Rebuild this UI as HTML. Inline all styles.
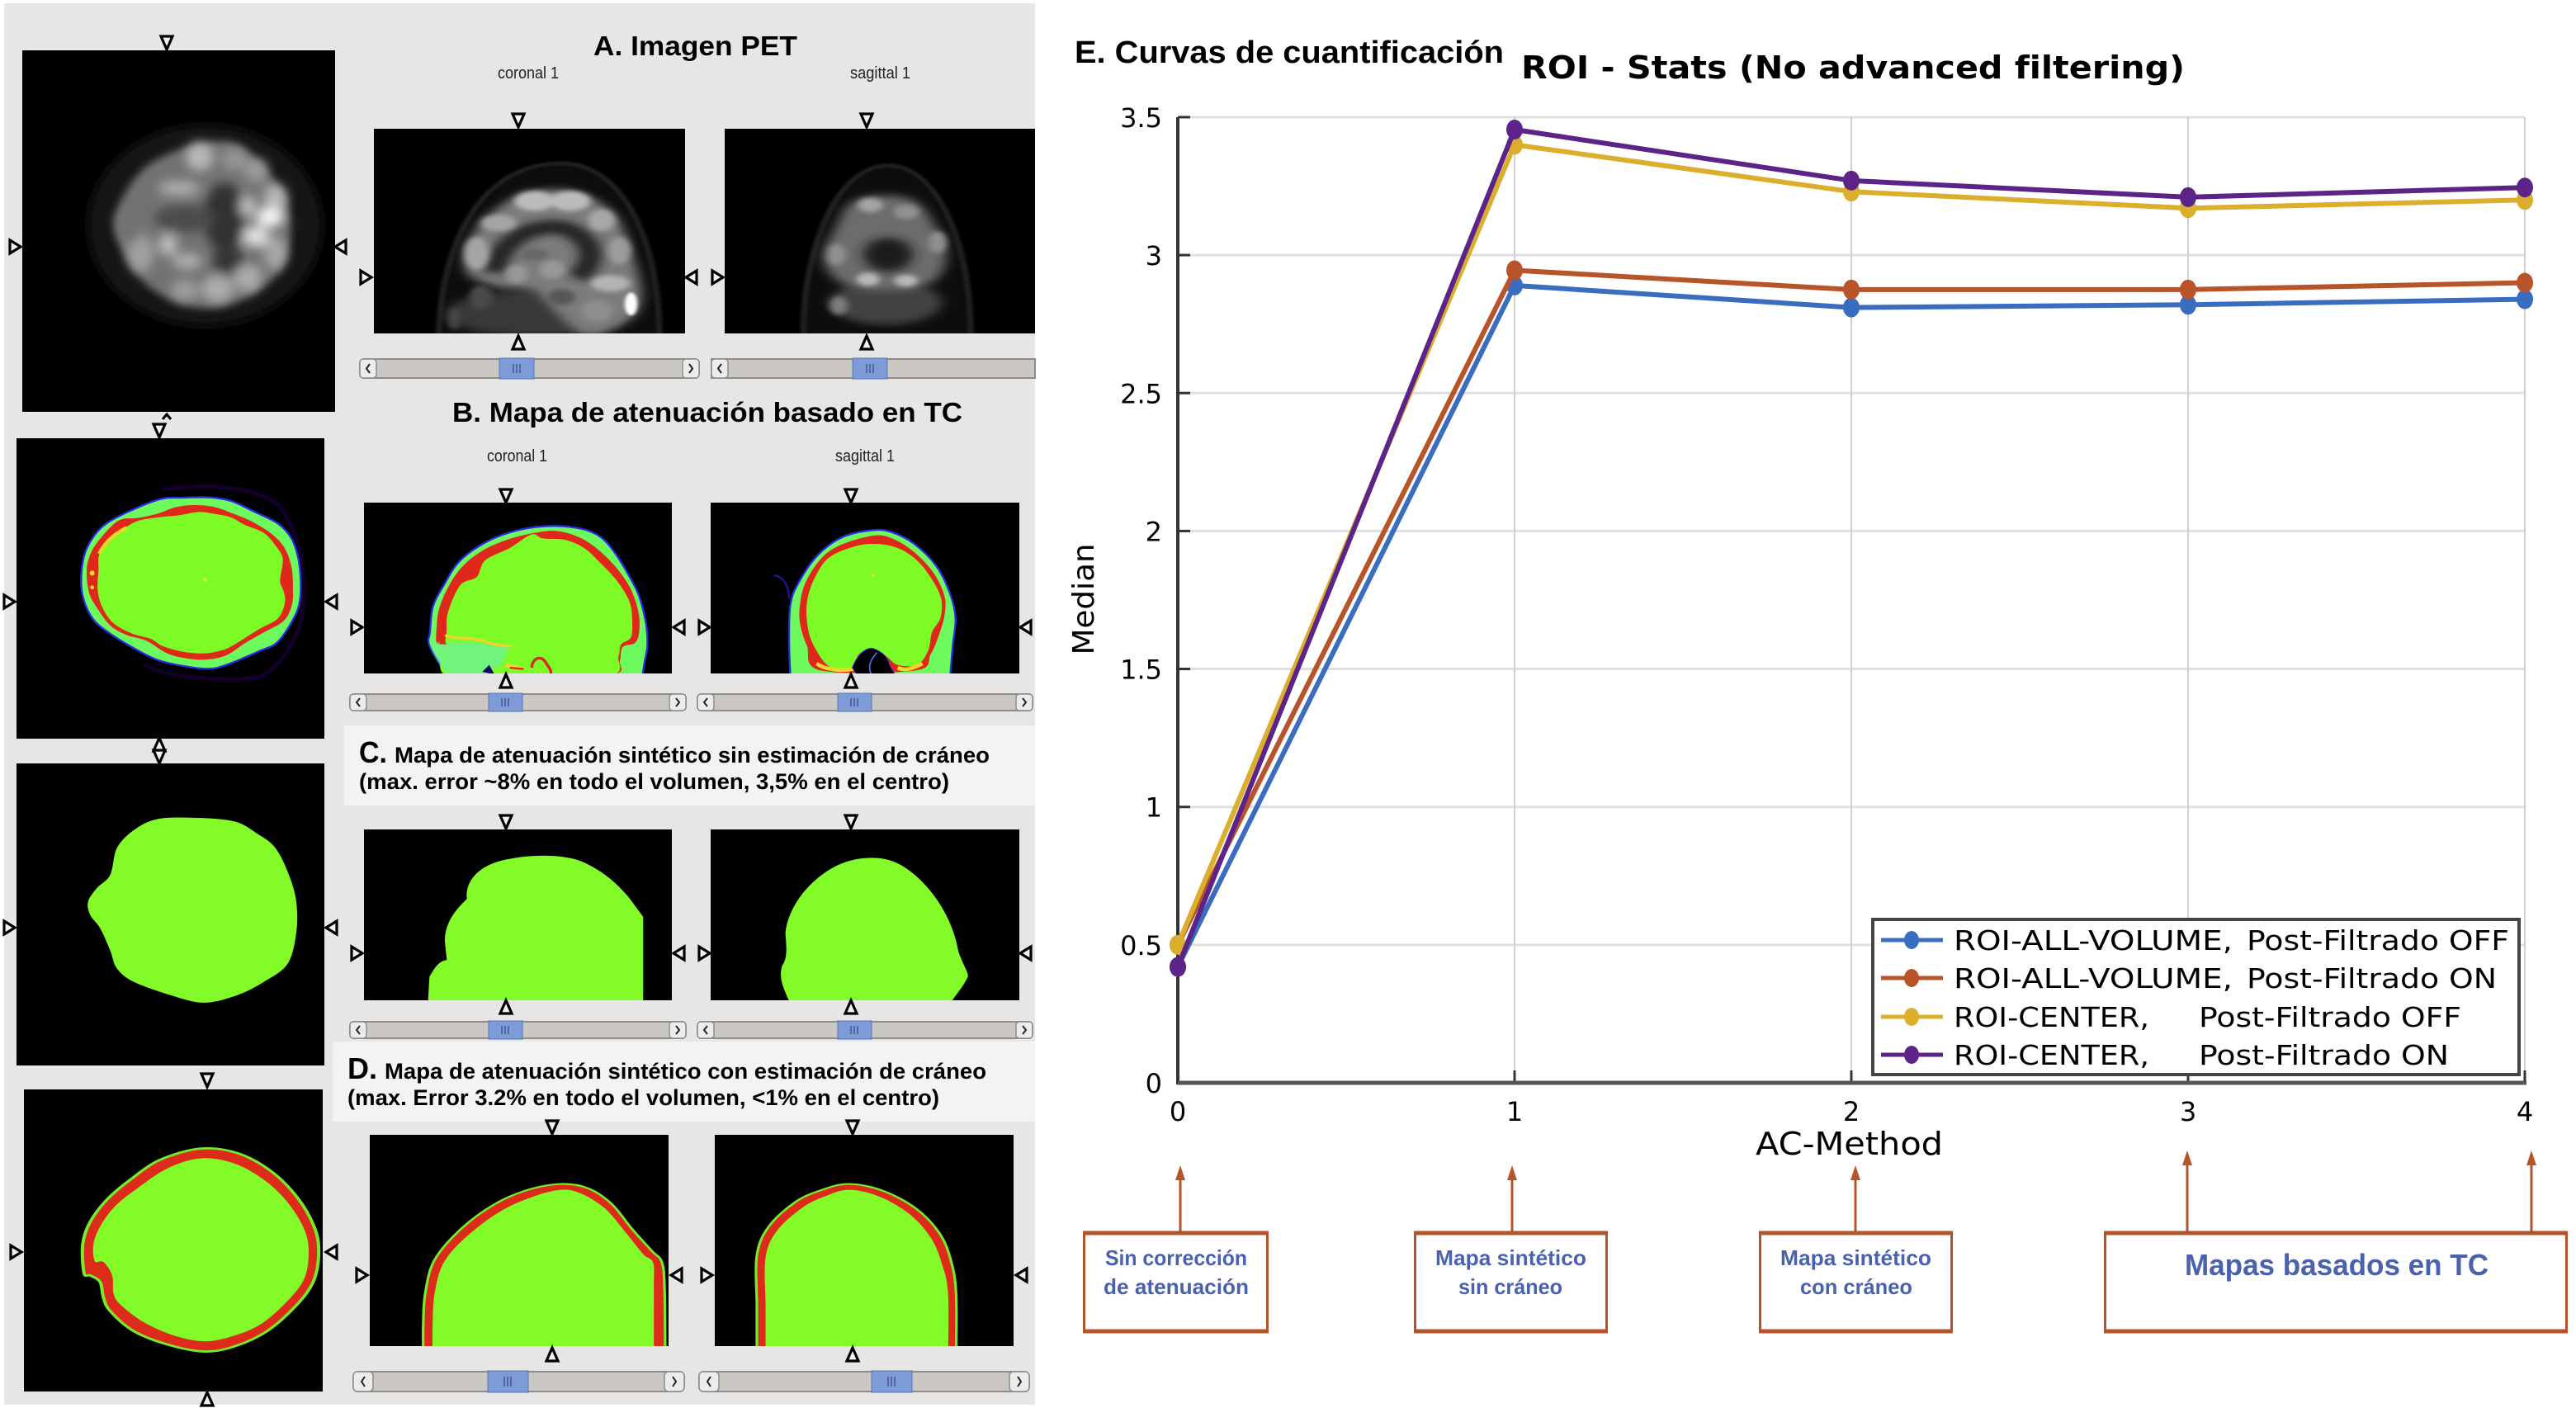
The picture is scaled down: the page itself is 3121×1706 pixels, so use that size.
<!DOCTYPE html>
<html lang="es">
<head>
<meta charset="utf-8">
<title>Curvas de cuantificación</title>
<style>
html,body{margin:0;padding:0;background:#fff;}
svg{display:block;}
.lb{font-family:"Liberation Sans",sans-serif;font-weight:bold;fill:#000;}
.ln{font-family:"Liberation Sans",sans-serif;fill:#222;font-size:20px;}
.dj{font-family:"DejaVu Sans",sans-serif;fill:#000;}
.bx{font-family:"Liberation Sans",sans-serif;font-weight:bold;fill:#4a62ad;}
</style>
</head>
<body>
<svg id="figure" xmlns="http://www.w3.org/2000/svg" width="3121" height="1706" viewBox="0 0 3121 1706">
<defs>
<filter id="b4" x="-30%" y="-30%" width="160%" height="160%"><feGaussianBlur stdDeviation="4"/></filter>
<filter id="b8" x="-30%" y="-30%" width="160%" height="160%"><feGaussianBlur stdDeviation="8"/></filter>
<filter id="b14" x="-30%" y="-30%" width="160%" height="160%"><feGaussianBlur stdDeviation="14"/></filter>
<filter id="b20" x="-30%" y="-30%" width="160%" height="160%"><feGaussianBlur stdDeviation="20"/></filter>
<polygon id="td" points="-7,-8 7,-8 0,8" fill="#f2f2f2" stroke="#000" stroke-width="3.2" stroke-linejoin="miter"/>
<polygon id="tu" points="-7,8 7,8 0,-8" fill="#f2f2f2" stroke="#000" stroke-width="3.2"/>
<polygon id="tr" points="-6,-8 -6,8 7,0" fill="#f2f2f2" stroke="#000" stroke-width="3.2"/>
<polygon id="tl" points="6,-8 6,8 -7,0" fill="#f2f2f2" stroke="#000" stroke-width="3.2"/>
</defs>

<rect width="3121" height="1706" fill="#fff"/>
<rect x="5" y="4" width="1249" height="1698" fill="#e7e6e4"/>

<!-- caption boxes -->
<rect x="417" y="879" width="837" height="97" fill="#f3f3f3"/>
<rect x="403" y="1262" width="851" height="97" fill="#f3f3f3"/>

<!-- A axial -->
<svg x="27" y="61" width="379" height="438" viewBox="81 94 1136 1313" preserveAspectRatio="none">
<rect x="81" y="94" width="1136" height="1313" fill="#000"/>
<ellipse cx="745" cy="730" rx="425" ry="365" fill="#151515" filter="url(#b20)"/>
<path data-pts="415,740 450,620 540,510 700,440 850,430 960,520 1040,640 1055,760 1020,890 900,990 760,1030 620,1000 500,910" fill="#727272" filter="url(#b14)"/>
<g filter="url(#b20)">
<ellipse cx="815" cy="700" rx="75" ry="125" fill="#323232"/>
<ellipse cx="670" cy="705" rx="110" ry="50" fill="#4c4c4c"/>
<ellipse cx="830" cy="860" rx="60" ry="50" fill="#363636"/>
<ellipse cx="725" cy="480" rx="50" ry="52" fill="#b8b8b8"/>
<ellipse cx="650" cy="595" rx="75" ry="26" fill="#b0b0b0"/>
<ellipse cx="850" cy="490" rx="45" ry="40" fill="#969696"/>
<ellipse cx="930" cy="530" rx="42" ry="42" fill="#9c9c9c"/>
<ellipse cx="1000" cy="630" rx="42" ry="50" fill="#b8b8b8"/>
<ellipse cx="900" cy="660" rx="30" ry="40" fill="#bcbcbc"/>
<ellipse cx="980" cy="700" rx="50" ry="36" fill="#f4f4f4"/>
<ellipse cx="930" cy="770" rx="48" ry="38" fill="#e0e0e0"/>
<ellipse cx="1000" cy="830" rx="40" ry="60" fill="#a8a8a8"/>
<ellipse cx="610" cy="800" rx="35" ry="40" fill="#bcbcbc"/>
<ellipse cx="680" cy="860" rx="55" ry="28" fill="#b0b0b0"/>
<ellipse cx="510" cy="830" rx="48" ry="70" fill="#a0a0a0"/>
<ellipse cx="900" cy="920" rx="50" ry="50" fill="#acacac"/>
<ellipse cx="790" cy="960" rx="60" ry="50" fill="#acacac"/>
<ellipse cx="670" cy="965" rx="50" ry="40" fill="#9c9c9c"/>
<ellipse cx="470" cy="740" rx="40" ry="60" fill="#727272"/>
</g>
</svg>

<!-- A coronal -->
<svg x="453" y="156" width="377" height="248" viewBox="60 287 697 745" preserveAspectRatio="none">
<rect x="60" y="287" width="697" height="745" fill="#000"/>
<path d="M205,1040 C210,700 300,412 480,412 C620,412 700,700 700,1040Z" fill="#0a0a0a" stroke="#242424" stroke-width="12" filter="url(#b4)"/>
<ellipse cx="420" cy="960" rx="200" ry="85" fill="#383838" filter="url(#b14)"/>
<path data-pts="265,800 290,650 370,540 440,510 520,520 600,600 640,750 660,900 630,985 540,1040 470,960 420,880 330,860" fill="#7c7c7c" filter="url(#b14)"/>
<path d="M330,810 C340,690 420,625 490,650 C550,690 565,760 515,830" fill="none" stroke="#242424" stroke-width="50" filter="url(#b14)"/>
<g filter="url(#b8)">
<ellipse cx="420" cy="550" rx="45" ry="36" fill="#bcbcbc"/>
<ellipse cx="500" cy="550" rx="45" ry="36" fill="#bcbcbc"/>
<ellipse cx="570" cy="620" rx="30" ry="40" fill="#a8a8a8"/>
<ellipse cx="340" cy="630" rx="40" ry="30" fill="#a4a4a4"/>
<ellipse cx="290" cy="740" rx="28" ry="60" fill="#a4a4a4"/>
<ellipse cx="610" cy="730" rx="25" ry="50" fill="#9c9c9c"/>
<ellipse cx="380" cy="815" rx="24" ry="34" fill="#989898"/>
<ellipse cx="460" cy="800" rx="28" ry="34" fill="#989898"/>
<ellipse cx="420" cy="745" rx="30" ry="22" fill="#666666"/>
<ellipse cx="590" cy="850" rx="44" ry="30" fill="#b4b4b4"/>
<ellipse cx="560" cy="950" rx="34" ry="40" fill="#8e8e8e"/>
<ellipse cx="480" cy="900" rx="30" ry="30" fill="#565656"/>
<ellipse cx="300" cy="900" rx="26" ry="46" fill="#4a4a4a"/>
<ellipse cx="240" cy="980" rx="12" ry="40" fill="#484848"/>
</g>
<ellipse cx="636" cy="925" rx="14" ry="42" fill="#ffffff" filter="url(#b4)"/>
</svg>

<!-- A sagittal -->
<svg x="878" y="156" width="376" height="248" viewBox="845 287 693 745" preserveAspectRatio="none">
<rect x="845" y="287" width="693" height="745" fill="#000"/>
<path d="M1020,1040 C1020,700 1100,420 1210,420 C1320,420 1395,700 1395,1040Z" fill="#0a0a0a" stroke="#202020" stroke-width="12" filter="url(#b4)"/>
<ellipse cx="1205" cy="920" rx="125" ry="80" fill="#424242" filter="url(#b14)"/>
<path data-pts="1065,750 1095,640 1125,560 1190,530 1270,550 1315,640 1340,740 1320,830 1260,870 1150,870 1090,830" fill="#6c6c6c" filter="url(#b14)"/>
<ellipse cx="1210" cy="745" rx="55" ry="62" fill="#1a1a1a" filter="url(#b14)"/>
<g filter="url(#b8)">
<ellipse cx="1170" cy="565" rx="28" ry="26" fill="#a4a4a4"/>
<ellipse cx="1250" cy="590" rx="28" ry="26" fill="#929292"/>
<ellipse cx="1165" cy="835" rx="26" ry="24" fill="#b8b8b8"/>
<ellipse cx="1250" cy="840" rx="26" ry="22" fill="#b8b8b8"/>
<ellipse cx="1095" cy="745" rx="20" ry="40" fill="#909090"/>
<ellipse cx="1320" cy="700" rx="20" ry="40" fill="#909090"/>
<ellipse cx="1100" cy="930" rx="20" ry="34" fill="#7c7c7c"/>
</g>
</svg>

<!-- B axial -->
<svg x="20" y="531" width="373" height="364" viewBox="0 0 1119 1092" preserveAspectRatio="none">
<rect width="1119" height="1092" fill="#000"/>
<path d="M530,185 C700,165 860,175 950,240 C1020,320 1070,500 1030,680 C1000,760 960,830 880,870 C760,880 560,880 460,820" fill="none" stroke="#150430" stroke-width="14" filter="url(#b4)"/>
<path data-pts="700,215 780,228 860,265 950,310 1000,365 1025,440 1033,520 1030,590 1010,650 950,740 880,775 760,825 690,838 590,825 510,805 430,765 340,710 280,660 245,590 235,520 245,430 275,365 320,315 400,270 520,222 600,216" fill="#6cfa5c" stroke="#2a2ae8" stroke-width="7"/>
<path data-pts="650,243 720,250 790,275 860,305 930,350 975,400 1000,470 1005,550 1000,610 970,665 900,705 830,745 760,790 680,805 600,797 540,778 470,735 400,715 340,680 295,620 265,565 255,490 265,430 300,370 370,300 440,290 510,275 580,250" fill="#e0281a"/>
<path data-pts="660,268 720,275 780,288 830,315 900,345 945,395 968,440 958,518 972,560 975,600 950,655 880,695 800,745 750,770 680,782 600,775 530,755 490,730 420,710 350,670 310,610 295,550 298,480 302,420 350,360 430,305 510,288 590,280" fill="#7dfb27"/>
<path d="M300,420 C320,380 350,350 400,325" fill="none" stroke="#f4d428" stroke-width="12"/>
<circle cx="275" cy="490" r="9" fill="#f6e030"/><circle cx="275" cy="542" r="7" fill="#f6e030"/><circle cx="685" cy="515" r="7" fill="#d8f03a"/>
</svg>

<!-- B coronal -->
<svg x="441" y="609" width="373" height="207" viewBox="0 0 1119 621" preserveAspectRatio="none">
<rect width="1119" height="621" fill="#000"/>
<path data-open="1" data-pts="310,640 265,570 235,510 240,470 250,380 290,300 350,210 450,140 560,100 680,85 790,95 860,125 910,180 960,260 1000,340 1025,440 1030,520 1020,580 1010,640" fill="#6cfa5c" stroke="#2a2ae8" stroke-width="7"/>
<path data-pts="265,515 265,440 275,380 310,300 360,230 430,175 520,135 620,110 700,103 780,125 850,170 920,240 970,315 998,400 1000,470 985,510 940,525 930,575 905,625 600,640 300,525" fill="#e0281a"/>
<path data-pts="300,470 305,400 350,300 410,270 440,210 530,165 590,125 620,115 650,130 730,135 800,165 860,220 920,285 965,360 975,430 970,490 935,515 925,560 900,630 600,660 300,630 296,510" fill="#7dfb27"/>
<path d="M285,510 C380,500 470,515 530,525 L500,590 L420,625 L305,625 C280,590 250,550 240,510Z" fill="#6ff47c" filter="url(#b4)"/>
<path d="M275,470 L275,515 L300,515Z" fill="#e0281a"/>
<path d="M295,482 C320,495 400,490 440,505 C480,520 510,520 535,522" fill="none" stroke="#f4d428" stroke-width="10"/>
<path d="M610,600 C610,570 640,550 660,580 C670,600 680,600 680,625" fill="none" stroke="#d8281a" stroke-width="10"/>
<path d="M515,590 L580,605" stroke="#f4d428" stroke-width="14"/>
<path d="M530,600 L580,605" stroke="#d8281a" stroke-width="7"/>
<path d="M430,615 L455,590 L475,625Z" fill="#0a0a60"/>
</svg>

<!-- B sagittal -->
<svg x="861" y="609" width="374" height="207" viewBox="0 0 1122 621" preserveAspectRatio="none">
<rect width="1122" height="621" fill="#000"/>
<path d="M230,264 C270,270 285,310 285,350" fill="none" stroke="#2a14a0" stroke-width="6"/>
<path data-open="1" data-pts="290,640 285,500 290,370 320,290 390,190 480,125 590,100 660,108 740,150 820,230 870,330 890,420 880,520 870,640" fill="#6cfa5c" stroke="#2a2ae8" stroke-width="7"/>
<path data-pts="400,610 350,520 325,440 325,370 345,290 400,205 470,155 590,120 660,130 740,180 810,255 850,340 850,410 830,480 800,550 745,610" fill="#e0281a"/>
<path data-pts="430,595 370,510 350,430 352,350 380,270 430,200 520,160 600,150 680,165 750,210 805,280 838,350 835,420 805,470 790,540 750,590 680,590 640,560 590,530 540,550 510,600" fill="#7dfb27"/>
<path d="M385,585 C420,610 480,612 520,605 M680,600 C700,610 720,610 770,585" fill="none" stroke="#f4d428" stroke-width="14"/>
<path d="M515,600 C530,560 560,525 590,530 C620,540 645,560 650,590 L670,625 L530,625Z" fill="#000" stroke="#2a2ae8" stroke-width="3"/>
<path d="M605,545 C580,570 570,600 585,625" fill="none" stroke="#4a70f0" stroke-width="5"/>
<circle cx="590" cy="264" r="5" fill="#f4e030"/>
</svg>

<!-- C -->
<svg x="20" y="925" width="373" height="366" viewBox="25 120 460 678" preserveAspectRatio="none">
<rect x="25" y="120" width="460" height="678" fill="#000"/>
<path data-pts="290,242 350,250 385,278 412,310 432,370 443,430 443,500 430,570 395,610 355,640 305,657 255,640 200,610 175,580 165,540 150,490 135,460 132,430 145,400 165,370 175,310 200,270 235,245" fill="#82fb28"/>
</svg>
<svg x="441" y="1005" width="373" height="207" viewBox="544 268 461 385" preserveAspectRatio="none">
<rect x="544" y="268" width="461" height="385" fill="#000"/>
<path d="M640,653 L642,600 C650,580 655,565 668,562 L665,520 C665,480 680,450 698,425 C695,380 720,345 760,335 C790,325 840,322 870,340 C900,360 920,385 940,420 L962,465 L962,653Z" fill="#82fb28"/>
</svg>
<svg x="861" y="1005" width="374" height="207" viewBox="1063 268 462 385" preserveAspectRatio="none">
<rect x="1063" y="268" width="462" height="385" fill="#000"/>
<path d="M1180,653 C1170,620 1165,600 1170,575 C1180,555 1175,520 1175,500 C1180,440 1210,385 1245,355 C1265,338 1285,332 1305,332 C1330,332 1350,345 1372,375 C1405,420 1425,480 1432,530 C1435,560 1450,590 1448,600 C1440,625 1430,640 1425,653Z" fill="#82fb28"/>
</svg>

<!-- D -->
<svg x="29" y="1320" width="362" height="366" viewBox="36 852 447 679" preserveAspectRatio="none">
<rect x="36" y="852" width="447" height="679" fill="#000"/>
<path data-pts="300,985 355,995 405,1035 445,1095 470,1160 477,1215 470,1280 445,1335 400,1395 350,1430 305,1441 250,1425 200,1395 165,1350 155,1320 150,1285 135,1270 126,1265 124,1200 135,1150 160,1100 195,1055 240,1010" fill="#dd2a1a" stroke="#74ec2a" stroke-width="5"/>
<path data-pts="300,1007 350,1018 395,1055 430,1105 455,1165 462,1215 456,1275 432,1325 390,1380 345,1408 305,1418 260,1405 215,1375 180,1335 170,1310 168,1270 155,1240 142,1238 140,1200 150,1160 172,1115 205,1075 250,1030" fill="#82fb28"/>
</svg>
<svg x="448" y="1375" width="362" height="256" viewBox="553 955 447 473" preserveAspectRatio="none">
<rect x="553" y="955" width="447" height="473" fill="#000"/>
<path data-open="1" data-pts="633,1460 633,1380 636,1310 650,1235 690,1165 740,1110 790,1078 840,1065 880,1075 915,1110 945,1165 975,1215 990,1240 994,1300 995,1460" fill="#dd2a1a" stroke="#74ec2a" stroke-width="4"/>
<path data-open="1" data-pts="647,1460 647,1380 650,1310 664,1240 700,1180 750,1125 800,1092 840,1078 870,1087 905,1120 935,1172 962,1222 977,1242 978,1300 978,1460" fill="#82fb28"/>
</svg>
<svg x="866" y="1375" width="362" height="256" viewBox="1069 955 447 473" preserveAspectRatio="none">
<rect x="1069" y="955" width="447" height="473" fill="#000"/>
<path data-open="1" data-pts="1132,1460 1132,1340 1132,1225 1150,1160 1190,1105 1230,1078 1270,1065 1320,1080 1370,1120 1405,1175 1422,1235 1430,1310 1430,1460" fill="#dd2a1a" stroke="#74ec2a" stroke-width="4"/>
<path data-open="1" data-pts="1145,1460 1145,1340 1145,1230 1162,1170 1200,1118 1235,1092 1270,1078 1315,1093 1360,1132 1392,1185 1408,1240 1418,1310 1418,1460" fill="#82fb28"/>
</svg>

<!-- crosshair markers -->
<g>
<use href="#td" x="202" y="52"/><use href="#tr" x="18" y="299"/><use href="#tl" x="413" y="299"/>
<path d="M197,508 L202,502 L207,508" fill="none" stroke="#000" stroke-width="3"/><use href="#td" x="193" y="522"/>
<use href="#td" x="628" y="146"/><use href="#tu" x="628" y="415"/><use href="#tr" x="443" y="336"/><use href="#tl" x="838" y="336"/>
<use href="#td" x="1050" y="146"/><use href="#tu" x="1050" y="415"/><use href="#tr" x="869" y="336"/>
<use href="#tr" x="11" y="729"/><use href="#tl" x="402" y="729"/>
<use href="#td" x="613" y="601"/><use href="#tu" x="613" y="825"/><use href="#tr" x="432" y="760"/><use href="#tl" x="823" y="760"/>
<use href="#td" x="1031" y="601"/><use href="#tu" x="1031" y="825"/><use href="#tr" x="853" y="760"/><use href="#tl" x="1243" y="760"/>
<use href="#tu" x="193" y="902"/><use href="#td" x="193" y="917"/><use href="#tr" x="11" y="1124"/><use href="#tl" x="402" y="1124"/>
<use href="#td" x="613" y="996"/><use href="#tu" x="613" y="1220"/><use href="#tr" x="432" y="1155"/><use href="#tl" x="823" y="1155"/>
<use href="#td" x="1031" y="996"/><use href="#tu" x="1031" y="1220"/><use href="#tr" x="853" y="1155"/><use href="#tl" x="1243" y="1155"/>
<use href="#td" x="251" y="1309"/><use href="#tr" x="19" y="1517"/><use href="#tl" x="402" y="1517"/><use href="#tu" x="251" y="1695"/>
<use href="#td" x="669" y="1366"/><use href="#tu" x="669" y="1641"/><use href="#tr" x="438" y="1545"/><use href="#tl" x="820" y="1545"/>
<use href="#td" x="1033" y="1366"/><use href="#tu" x="1033" y="1641"/><use href="#tr" x="856" y="1545"/><use href="#tl" x="1238" y="1545"/>
</g>

<!-- scrollbars -->
<g>
<rect x="436" y="435" width="411" height="23" rx="5" fill="#cbc8c4" stroke="#8d8d8d" stroke-width="2"/><rect x="436" y="435" width="20" height="23" rx="4" fill="#ececec" stroke="#8d8d8d" stroke-width="1.5"/><rect x="827" y="435" width="20" height="23" rx="4" fill="#ececec" stroke="#8d8d8d" stroke-width="1.5"/><rect x="605" y="434" width="42" height="25" fill="#7d9bd9" stroke="#5874b0" stroke-width="1"/><path d="M622,441V452M626,441V452M630,441V452" stroke="#44578c" stroke-width="1.5"/><path d="M448,441L444,446.500L448,452M835,441L839,446.500L835,452" fill="none" stroke="#222" stroke-width="2"/>
</g>
<g>
<rect x="862" y="435" width="392" height="23" fill="#cbc8c4" stroke="#8d8d8d" stroke-width="2"/><rect x="862" y="435" width="20" height="23" rx="4" fill="#ececec" stroke="#8d8d8d" stroke-width="1.5"/><rect x="1033" y="434" width="42" height="25" fill="#7d9bd9" stroke="#5874b0" stroke-width="1"/><path d="M1050,441V452M1054,441V452M1058,441V452" stroke="#44578c" stroke-width="1.5"/><path d="M874,441L870,446.500L874,452" fill="none" stroke="#222" stroke-width="2"/>
</g>
<g>
<rect x="424" y="841" width="407" height="20" rx="5" fill="#cbc8c4" stroke="#8d8d8d" stroke-width="2"/><rect x="424" y="841" width="20" height="20" rx="4" fill="#ececec" stroke="#8d8d8d" stroke-width="1.5"/><rect x="811" y="841" width="20" height="20" rx="4" fill="#ececec" stroke="#8d8d8d" stroke-width="1.5"/><rect x="592" y="840" width="41" height="22" fill="#7d9bd9" stroke="#5874b0" stroke-width="1"/><path d="M608,846V856M612,846V856M616,846V856" stroke="#44578c" stroke-width="1.5"/><path d="M436,846L432,851L436,856M819,846L823,851L819,856" fill="none" stroke="#222" stroke-width="2"/>
</g>
<g>
<rect x="845" y="841" width="406" height="20" rx="5" fill="#cbc8c4" stroke="#8d8d8d" stroke-width="2"/><rect x="845" y="841" width="20" height="20" rx="4" fill="#ececec" stroke="#8d8d8d" stroke-width="1.5"/><rect x="1231" y="841" width="20" height="20" rx="4" fill="#ececec" stroke="#8d8d8d" stroke-width="1.5"/><rect x="1015" y="840" width="41" height="22" fill="#7d9bd9" stroke="#5874b0" stroke-width="1"/><path d="M1031,846V856M1035,846V856M1039,846V856" stroke="#44578c" stroke-width="1.5"/><path d="M857,846L853,851L857,856M1239,846L1243,851L1239,856" fill="none" stroke="#222" stroke-width="2"/>
</g>
<g>
<rect x="424" y="1238" width="407" height="20" rx="5" fill="#cbc8c4" stroke="#8d8d8d" stroke-width="2"/><rect x="424" y="1238" width="20" height="20" rx="4" fill="#ececec" stroke="#8d8d8d" stroke-width="1.5"/><rect x="811" y="1238" width="20" height="20" rx="4" fill="#ececec" stroke="#8d8d8d" stroke-width="1.5"/><rect x="592" y="1237" width="41" height="22" fill="#7d9bd9" stroke="#5874b0" stroke-width="1"/><path d="M608,1243V1253M612,1243V1253M616,1243V1253" stroke="#44578c" stroke-width="1.5"/><path d="M436,1243L432,1248L436,1253M819,1243L823,1248L819,1253" fill="none" stroke="#222" stroke-width="2"/>
</g>
<g>
<rect x="845" y="1238" width="406" height="20" rx="5" fill="#cbc8c4" stroke="#8d8d8d" stroke-width="2"/><rect x="845" y="1238" width="20" height="20" rx="4" fill="#ececec" stroke="#8d8d8d" stroke-width="1.5"/><rect x="1231" y="1238" width="20" height="20" rx="4" fill="#ececec" stroke="#8d8d8d" stroke-width="1.5"/><rect x="1015" y="1237" width="41" height="22" fill="#7d9bd9" stroke="#5874b0" stroke-width="1"/><path d="M1031,1243V1253M1035,1243V1253M1039,1243V1253" stroke="#44578c" stroke-width="1.5"/><path d="M857,1243L853,1248L857,1253M1239,1243L1243,1248L1239,1253" fill="none" stroke="#222" stroke-width="2"/>
</g>
<g>
<rect x="428" y="1662" width="401" height="24" rx="6" fill="#cbc8c4" stroke="#8d8d8d" stroke-width="2"/><rect x="428" y="1662" width="24" height="24" rx="5" fill="#ececec" stroke="#8d8d8d" stroke-width="1.5"/><rect x="805" y="1662" width="24" height="24" rx="5" fill="#ececec" stroke="#8d8d8d" stroke-width="1.5"/><rect x="591" y="1661" width="49" height="26" fill="#7d9bd9" stroke="#5874b0" stroke-width="1"/><path d="M611,1668V1680M615,1668V1680M619,1668V1680" stroke="#44578c" stroke-width="1.5"/><path d="M442,1668L438,1674L442,1680M815,1668L819,1674L815,1680" fill="none" stroke="#222" stroke-width="2"/>
</g>
<g>
<rect x="847" y="1662" width="400" height="24" rx="6" fill="#cbc8c4" stroke="#8d8d8d" stroke-width="2"/><rect x="847" y="1662" width="24" height="24" rx="5" fill="#ececec" stroke="#8d8d8d" stroke-width="1.5"/><rect x="1223" y="1662" width="24" height="24" rx="5" fill="#ececec" stroke="#8d8d8d" stroke-width="1.5"/><rect x="1056" y="1661" width="49" height="26" fill="#7d9bd9" stroke="#5874b0" stroke-width="1"/><path d="M1076,1668V1680M1080,1668V1680M1084,1668V1680" stroke="#44578c" stroke-width="1.5"/><path d="M861,1668L857,1674L861,1680M1233,1668L1237,1674L1233,1680" fill="none" stroke="#222" stroke-width="2"/>
</g>

<!-- left-hand text -->
<text class="lb" x="719" y="67" font-size="33" textLength="247" lengthAdjust="spacingAndGlyphs">A. Imagen PET</text>
<text class="ln" x="603" y="95" textLength="74" lengthAdjust="spacingAndGlyphs">coronal 1</text>
<text class="ln" x="1030" y="95" textLength="73" lengthAdjust="spacingAndGlyphs">sagittal 1</text>
<text class="lb" x="548" y="511" font-size="33" textLength="618" lengthAdjust="spacingAndGlyphs">B. Mapa de atenuación basado en TC</text>
<text class="ln" x="590" y="559" textLength="73" lengthAdjust="spacingAndGlyphs">coronal 1</text>
<text class="ln" x="1012" y="559" textLength="72" lengthAdjust="spacingAndGlyphs">sagittal 1</text>
<text class="lb" x="435" y="924" font-size="36" textLength="34" lengthAdjust="spacingAndGlyphs">C.</text>
<text class="lb" x="478" y="924" font-size="27" textLength="721" lengthAdjust="spacingAndGlyphs">Mapa de atenuación sintético sin estimación de cráneo</text>
<text class="lb" x="435" y="956" font-size="27" textLength="715" lengthAdjust="spacingAndGlyphs">(max. error ~8% en todo el volumen, 3,5% en el centro)</text>
<text class="lb" x="421" y="1307" font-size="36" textLength="36" lengthAdjust="spacingAndGlyphs">D.</text>
<text class="lb" x="466" y="1307" font-size="27" textLength="729" lengthAdjust="spacingAndGlyphs">Mapa de atenuación sintético con estimación de cráneo</text>
<text class="lb" x="421" y="1339" font-size="27" textLength="717" lengthAdjust="spacingAndGlyphs">(max. Error 3.2% en todo el volumen, &lt;1% en el centro)</text>
<text class="lb" x="1302" y="76" font-size="38" textLength="520" lengthAdjust="spacingAndGlyphs">E. Curvas de cuantificación</text>

<!-- annotation boxes -->
<g>
<path d="M1430,1492V1428" stroke="#b5532a" stroke-width="3"/><path d="M1430,1412L1436,1430H1424Z" fill="#b5532a"/>
<rect x="1313.500" y="1493.500" width="222" height="120" fill="#fff" stroke="#b5532a" stroke-width="3"/><path d="M1312,1494H1537M1312,1613H1537" stroke="#b5532a" stroke-width="5"/>
<text class="bx" x="1339" y="1533" font-size="26" textLength="172" lengthAdjust="spacingAndGlyphs">Sin corrección</text>
<text class="bx" x="1337" y="1568" font-size="26" textLength="176" lengthAdjust="spacingAndGlyphs">de atenuación</text>
</g>
<g>
<path d="M1832,1492V1428" stroke="#b5532a" stroke-width="3"/><path d="M1832,1412L1838,1430H1826Z" fill="#b5532a"/>
<rect x="1714.500" y="1493.500" width="232" height="120" fill="#fff" stroke="#b5532a" stroke-width="3"/><path d="M1713,1494H1948M1713,1613H1948" stroke="#b5532a" stroke-width="5"/>
<text class="bx" x="1739" y="1533" font-size="26" textLength="183" lengthAdjust="spacingAndGlyphs">Mapa sintético</text>
<text class="bx" x="1767" y="1568" font-size="26" textLength="126" lengthAdjust="spacingAndGlyphs">sin cráneo</text>
</g>
<g>
<path d="M2248,1492V1428" stroke="#b5532a" stroke-width="3"/><path d="M2248,1412L2254,1430H2242Z" fill="#b5532a"/>
<rect x="2132.500" y="1493.500" width="232" height="120" fill="#fff" stroke="#b5532a" stroke-width="3"/><path d="M2131,1494H2366M2131,1613H2366" stroke="#b5532a" stroke-width="5"/>
<text class="bx" x="2157" y="1533" font-size="26" textLength="183" lengthAdjust="spacingAndGlyphs">Mapa sintético</text>
<text class="bx" x="2181" y="1568" font-size="26" textLength="136" lengthAdjust="spacingAndGlyphs">con cráneo</text>
</g>
<g>
<path d="M2650,1492V1410M3067,1492V1410" stroke="#b5532a" stroke-width="3"/><path d="M2650,1394L2656,1412H2644Z M3067,1394L3073,1412H3061Z" fill="#b5532a"/>
<rect x="2550.500" y="1493.500" width="559" height="120" fill="#fff" stroke="#b5532a" stroke-width="3"/><path d="M2549,1494H3111M2549,1613H3111" stroke="#b5532a" stroke-width="5"/>
<text class="bx" x="2647" y="1545" font-size="36" textLength="368" lengthAdjust="spacingAndGlyphs">Mapas basados en TC</text>
</g>

<g id="chart"></g>
</svg>

<script>
const categories = [0, 1, 2, 3, 4];
const yTickValues = [0, 0.5, 1, 1.5, 2, 2.5, 3, 3.5];
const yTickLabels = ["0", "0.5", "1", "1.5", "2", "2.5", "3", "3.5"];
const xTickLabels = ["0", "1", "2", "3", "4"];
const roiAllOff = [0.42, 2.89, 2.81, 2.82, 2.84];
const roiAllOn = [0.50, 2.945, 2.875, 2.875, 2.90];
const roiCenterOff = [0.50, 3.40, 3.23, 3.17, 3.20];
const roiCenterOn = [0.42, 3.455, 3.27, 3.21, 3.245];
const seriesNames = ["roi-all-off", "roi-all-on", "roi-center-off", "roi-center-on"];
const seriesColors = ["#3a6cc0", "#b8532a", "#dcae2e", "#5c2488"];
const legendRoi = ["ROI-ALL-VOLUME,", "ROI-ALL-VOLUME,", "ROI-CENTER,", "ROI-CENTER,"];
const legendFilter = ["Post-Filtrado OFF", "Post-Filtrado ON", "Post-Filtrado OFF", "Post-Filtrado ON"];
const allSeries = [roiAllOff, roiAllOn, roiCenterOff, roiCenterOn];

/* smooth outline helper for the anatomical shapes (Catmull-Rom; closed, or open with a straight closing edge) */
document.querySelectorAll("path[data-pts]").forEach(p => {
  const pts = p.getAttribute("data-pts").trim().split(/\s+/).map(s => s.split(",").map(Number));
  const n = pts.length;
  const open = p.hasAttribute("data-open");
  const at = i => open ? pts[Math.max(0, Math.min(n - 1, i))] : pts[(i + n) % n];
  let d = "M" + pts[0][0] + "," + pts[0][1];
  const last = open ? n - 1 : n;
  for (let i = 0; i < last; i++) {
    const a = at(i - 1), b = at(i), c = at(i + 1), e = at(i + 2);
    const c1x = b[0] + (c[0] - a[0]) / 6, c1y = b[1] + (c[1] - a[1]) / 6;
    const c2x = c[0] - (e[0] - b[0]) / 6, c2y = c[1] - (e[1] - b[1]) / 6;
    d += "C" + c1x + "," + c1y + " " + c2x + "," + c2y + " " + c[0] + "," + c[1];
  }
  p.setAttribute("d", d + "Z");
});

const NS = "http://www.w3.org/2000/svg";
const chart = document.getElementById("chart");
const xScale = v => 1427 + 408 * v;
const yScale = v => 1312 - 334.3 * v;

function add(tag, attrs, parent) {
  const el = document.createElementNS(NS, tag);
  for (const k in attrs) el.setAttribute(k, attrs[k]);
  (parent || chart).appendChild(el);
  return el;
}

yTickValues.forEach((v, i) => {
  const g = add("line", {x1: xScale(0), x2: xScale(4), y1: yScale(v), y2: yScale(v), stroke: "#dfdfdf", "stroke-width": 3});
  
  
  const t = add("line", {x1: xScale(0), x2: xScale(0) + 15, y1: yScale(v), y2: yScale(v), stroke: "#333", "stroke-width": 3});
  
  
  const l = add("text", {x: 1408, y: yScale(v) + 12, "text-anchor": "end", "font-size": 32, class: "dj"});
  
  
  l.textContent = yTickLabels[i];
});

categories.forEach((c, i) => {
  const g = add("line", {x1: xScale(c), x2: xScale(c), y1: yScale(3.5), y2: yScale(0), stroke: "#cfcfcf", "stroke-width": 2});
  
  
  const t = add("line", {x1: xScale(c), x2: xScale(c), y1: yScale(0), y2: yScale(0) - 15, stroke: "#333", "stroke-width": 3});
  
  
  const l = add("text", {x: xScale(c), y: 1358, "text-anchor": "middle", "font-size": 32, class: "dj"});
  
  
  l.textContent = xTickLabels[i];
});

const yAxis = add("line", {x1: xScale(0), x2: xScale(0), y1: yScale(3.5), y2: yScale(0) + 2, stroke: "#333", "stroke-width": 4});


const xAxis = add("line", {x1: xScale(0), x2: xScale(4) + 2, y1: yScale(0), y2: yScale(0), stroke: "#555", "stroke-width": 5});



allSeries.forEach((vals, s) => {
  const group = add("g", {});
  
  
  const pts = vals.map((v, i) => xScale(categories[i]) + "," + yScale(v)).join(" ");
  add("polyline", {points: pts, fill: "none", stroke: seriesColors[s], "stroke-width": 6, "stroke-linejoin": "round"}, group);
  vals.forEach((v, i) => {
    const m = add("ellipse", {cx: xScale(categories[i]), cy: yScale(v), rx: 10, ry: 12, fill: seriesColors[s]}, group);
    
    
  });
});

const yTitle = add("text", {x: 0, y: 0, transform: "translate(1325,726) rotate(-90)", "text-anchor": "middle", "font-size": 36, class: "dj", textLength: 135, lengthAdjust: "spacingAndGlyphs"});


yTitle.textContent = "Median";
const xTitle = add("text", {x: 2127, y: 1399, "font-size": 38, class: "dj", textLength: 227, lengthAdjust: "spacingAndGlyphs"});


xTitle.textContent = "AC-Method";
const plotTitle = add("text", {x: 1843, y: 95, "font-size": 38, "font-weight": "bold", class: "dj", textLength: 804, lengthAdjust: "spacingAndGlyphs"});


plotTitle.textContent = "ROI - Stats (No advanced filtering)";

const legend = add("g", {});


add("rect", {x: 2269, y: 1114, width: 783, height: 188, fill: "#fff", stroke: "#444", "stroke-width": 4}, legend);
const legendRows = [1139, 1185, 1232, 1278];
seriesNames.forEach((name, i) => {
  const row = add("g", {}, legend);
  
  
  const y = legendRows[i];
  add("line", {x1: 2279, x2: 2354, y1: y, y2: y, stroke: seriesColors[i], "stroke-width": 5}, row);
  add("ellipse", {cx: 2316, cy: y, rx: 9, ry: 11, fill: seriesColors[i]}, row);
  const wide = legendRoi[i].length > 12;
  const a = add("text", {x: 2367, y: y + 12, "font-size": 33, class: "dj", textLength: wide ? 338 : 237, lengthAdjust: "spacingAndGlyphs"}, row);
  a.textContent = legendRoi[i];
  const b = add("text", {x: wide ? 2722 : 2664, y: y + 12, "font-size": 33, class: "dj", textLength: legendFilter[i].length > 16 ? 318 : 303, lengthAdjust: "spacingAndGlyphs"}, row);
  b.textContent = legendFilter[i];
});
</script>
</body>
</html>
